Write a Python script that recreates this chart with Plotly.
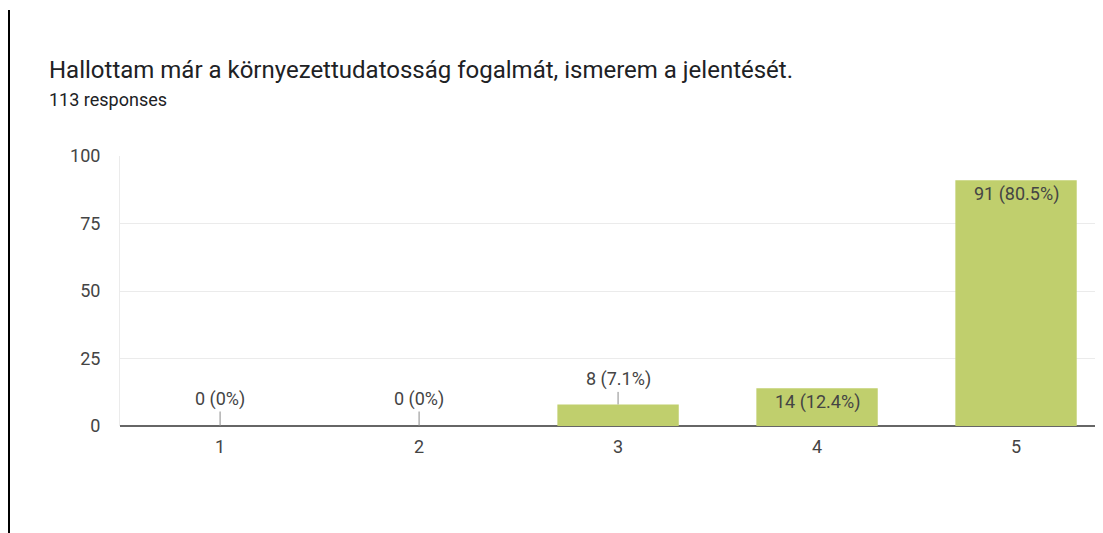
import plotly.graph_objects as go

categories = [1, 2, 3, 4, 5]
counts = [0, 0, 8, 14, 91]
percents = ["0%", "0%", "7.1%", "12.4%", "80.5%"]
total_responses = 113
title = "Hallottam már a környezettudatosság fogalmát, ismerem a jelentését."

bar_color = "#c0cf6d"
text_color = "#444444"
font_family = "Roboto, Arial"

# page coordinates -> paper coordinates of the plot area (120..1103 x, 426..156 y)
def px(x):
    return (x - 120) / 983

def py(y):
    return (426 - y) / 270

fig = go.Figure()
fig.add_trace(go.Bar(
    x=categories,
    y=counts,
    width=0.61,
    marker=dict(color=bar_color, line=dict(width=0)),
    hoverinfo="skip",
))

# data labels: short bars get a label above with a leader line, tall ones inside
for c, n, p in zip(categories, counts, percents):
    label = f"{n} ({p})"
    if n < 10:
        fig.add_annotation(
            x=c, y=n, xref="x", yref="y", text=label,
            showarrow=True, arrowhead=0, arrowwidth=1, arrowcolor="#8a8a8a",
            ax=0, ay=-27 if n == 0 else -25,
            font=dict(family=font_family, size=18, color=text_color),
        )
    else:
        fig.add_annotation(
            x=c, y=n, xref="x", yref="y", text=label, showarrow=False,
            yanchor="top", yshift=-1,
            font=dict(family=font_family, size=18, color=text_color),
        )

fig.add_annotation(
    text=title, xref="paper", yref="paper",
    x=px(47), y=py(70), xanchor="left", yanchor="middle",
    showarrow=False, font=dict(family=font_family, size=24, color="#202124"),
)
fig.add_annotation(
    text=f"{total_responses} responses", xref="paper", yref="paper",
    x=px(47), y=py(99), xanchor="left", yanchor="middle",
    showarrow=False, font=dict(family=font_family, size=18, color="#202124"),
)

fig.update_layout(
    width=1103, height=533,
    margin=dict(l=112, r=8, t=148, b=115),
    paper_bgcolor="white", plot_bgcolor="white",
    showlegend=False,
    font=dict(family=font_family, color="#202124"),
    xaxis=dict(
        range=[0.497, 5.437], tickvals=categories, ticktext=[str(c) for c in categories],
        showgrid=False, zeroline=False, showline=False, ticks="",
        tickfont=dict(size=18, color="#444444"), ticklabelstandoff=8,
    ),
    yaxis=dict(
        range=[0, 100], tickvals=[0, 25, 50, 75, 100],
        showgrid=True, gridcolor="#ebebeb", gridwidth=1,
        zeroline=True, zerolinecolor="#666666", zerolinewidth=2,
        showline=True, linecolor="#ebebeb", linewidth=1,
        tickfont=dict(size=18, color="#444444"), ticks="", ticklabelstandoff=15,
    ),
    shapes=[dict(
        type="line", xref="paper", yref="paper",
        x0=px(9), x1=px(9), y0=py(10), y1=py(560),
        line=dict(color="#000000", width=2),
    )],
)

fig.write_html("out.html")
